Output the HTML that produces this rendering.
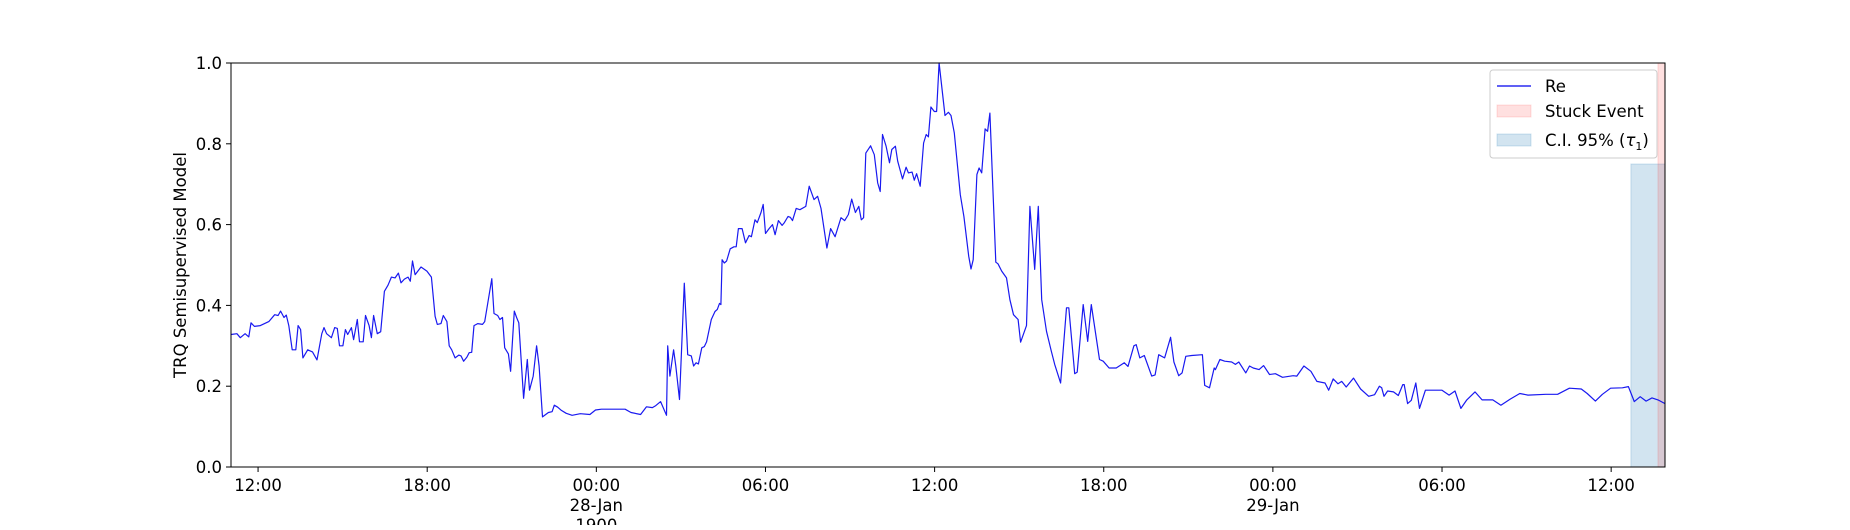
<!DOCTYPE html>
<html><head><meta charset="utf-8"><style>
html,body{margin:0;padding:0;background:#fff;}
svg text{font-family:"DejaVu Sans","Liberation Sans",sans-serif;fill:#000;}
</style></head><body>
<svg id="chart" width="1850" height="525" xmlns="http://www.w3.org/2000/svg">
<g id="bands"></g>
<g id="series"></g>
<g id="axes"></g>
<g id="legend"></g>
</svg>
<script>
// hours since 27-Jan 00:00
const hours = [11.04,11.25,11.37,11.54,11.67,11.75,11.87,12.08,12.38,12.59,12.71,12.80,12.92,13.00,13.09,13.21,13.34,13.42,13.51,13.59,13.76,13.93,14.09,14.26,14.34,14.43,14.60,14.72,14.81,14.89,15.01,15.10,15.18,15.31,15.39,15.52,15.60,15.73,15.81,15.94,16.02,16.10,16.23,16.35,16.48,16.61,16.73,16.86,16.98,17.07,17.19,17.32,17.40,17.48,17.57,17.78,17.99,18.15,18.28,18.36,18.49,18.57,18.70,18.78,18.87,18.99,19.12,19.20,19.29,19.41,19.49,19.58,19.66,19.79,19.96,20.04,20.12,20.29,20.37,20.50,20.58,20.67,20.75,20.88,20.96,21.09,21.17,21.25,21.42,21.55,21.63,21.76,21.88,21.97,22.09,22.30,22.43,22.51,22.63,22.76,22.93,23.14,23.43,23.77,23.97,24.18,24.60,25.02,25.23,25.57,25.78,25.99,26.11,26.28,26.49,26.53,26.61,26.74,26.82,26.95,27.12,27.24,27.37,27.45,27.54,27.62,27.74,27.83,27.91,28.08,28.21,28.29,28.37,28.42,28.46,28.54,28.62,28.75,28.88,28.96,29.04,29.17,29.29,29.42,29.50,29.63,29.71,29.84,29.92,30.00,30.13,30.25,30.34,30.46,30.59,30.67,30.80,30.88,30.96,31.09,31.22,31.43,31.55,31.72,31.85,31.97,32.18,32.31,32.47,32.68,32.81,32.94,33.06,33.19,33.31,33.40,33.48,33.56,33.73,33.86,33.98,34.07,34.15,34.28,34.40,34.48,34.61,34.69,34.86,34.99,35.07,35.20,35.28,35.36,35.49,35.61,35.70,35.78,35.87,35.99,36.07,36.16,36.37,36.49,36.58,36.70,36.91,37.04,37.21,37.29,37.37,37.50,37.58,37.67,37.79,37.88,37.96,38.17,38.25,38.38,38.55,38.67,38.80,38.96,39.05,39.26,39.38,39.55,39.68,39.80,39.97,40.14,40.26,40.47,40.68,40.76,40.97,41.06,41.27,41.43,41.56,41.85,41.98,42.19,42.44,42.73,42.86,43.07,43.15,43.28,43.44,43.70,43.82,43.95,44.16,44.37,44.49,44.66,44.78,44.91,45.12,45.50,45.58,45.75,45.92,45.96,46.12,46.29,46.54,46.67,46.79,47.04,47.17,47.30,47.51,47.67,47.88,48.09,48.34,48.72,48.85,49.10,49.35,49.56,49.85,49.98,50.14,50.31,50.44,50.60,50.86,51.11,51.40,51.61,51.78,51.86,51.94,52.07,52.28,52.45,52.61,52.66,52.78,52.91,53.07,53.20,53.41,54.00,54.25,54.46,54.67,54.88,55.17,55.42,55.80,56.09,56.42,56.76,57.05,57.68,58.10,58.52,58.94,59.15,59.44,59.69,59.98,60.40,60.61,60.82,61.03,61.24,61.45,61.66,61.91];
const values = [.328,.33,.32,.33,.322,.357,.348,.35,.36,.377,.375,.386,.37,.376,.35,.29,.29,.35,.34,.27,.29,.285,.265,.33,.345,.33,.32,.345,.343,.30,.30,.34,.328,.345,.315,.365,.31,.31,.375,.35,.32,.375,.33,.335,.435,.45,.47,.468,.48,.456,.465,.47,.46,.51,.476,.495,.485,.47,.373,.353,.355,.375,.36,.30,.29,.27,.277,.275,.262,.272,.283,.284,.35,.355,.353,.36,.394,.466,.38,.375,.365,.37,.295,.28,.237,.386,.37,.357,.17,.266,.19,.225,.30,.25,.124,.135,.137,.153,.148,.14,.133,.128,.132,.13,.141,.143,.143,.143,.135,.13,.149,.147,.152,.162,.128,.30,.225,.29,.25,.167,.455,.278,.275,.25,.258,.255,.295,.298,.31,.365,.385,.39,.405,.402,.513,.505,.51,.54,.545,.545,.59,.59,.555,.573,.57,.612,.605,.63,.65,.578,.59,.60,.575,.61,.598,.605,.62,.618,.61,.64,.637,.645,.695,.662,.67,.64,.542,.59,.57,.617,.61,.625,.663,.63,.645,.612,.617,.777,.795,.773,.703,.682,.823,.794,.753,.786,.794,.757,.713,.742,.728,.73,.71,.726,.695,.802,.823,.817,.891,.88,.88,1.0,.87,.878,.87,.827,.674,.62,.522,.49,.513,.724,.74,.728,.837,.831,.876,.507,.503,.485,.468,.414,.377,.365,.309,.35,.645,.489,.645,.414,.336,.287,.254,.208,.394,.394,.231,.235,.402,.311,.402,.266,.262,.245,.245,.258,.249,.30,.303,.27,.276,.225,.228,.278,.27,.321,.26,.226,.233,.274,.276,.278,.202,.196,.245,.241,.266,.262,.26,.254,.26,.233,.25,.245,.241,.251,.229,.231,.222,.226,.225,.25,.237,.212,.208,.19,.218,.206,.212,.198,.22,.193,.175,.179,.20,.196,.175,.188,.186,.177,.204,.204,.157,.165,.208,.145,.19,.19,.178,.188,.145,.166,.186,.166,.166,.153,.168,.182,.178,.18,.18,.195,.193,.182,.163,.18,.195,.196,.199,.162,.174,.163,.171,.166,.157];
const xTickHours = [12,18,24,30,36,42,48,54,60];
const xTickLabels = ["12:00","18:00","00:00","06:00","12:00","18:00","00:00","06:00","12:00"];
const xTickSub = {24:["28-Jan","1900"],48:["29-Jan"]};
const yTicks = [0,0.2,0.4,0.6,0.8,1.0];
const yTickLabels = ["0.0","0.2","0.4","0.6","0.8","1.0"];
const ciBand = [60.70,61.91,0.75];
const stuckBand = [61.66,61.91];
const xDomain = [11.04,61.91];

const NS="http://www.w3.org/2000/svg";
const L=231,R=1665,T=63,B=467;
const xs=h=>L+(h-xDomain[0])/(xDomain[1]-xDomain[0])*(R-L);
const ys=v=>B-v*(B-T);
function mk(tag,attrs,parent,text){const e=document.createElementNS(NS,tag);for(const k in attrs)e.setAttribute(k,attrs[k]);if(text!==undefined)e.textContent=text;parent.appendChild(e);return e;}
const bands=document.getElementById('bands'),series=document.getElementById('series'),axes=document.getElementById('axes'),legend=document.getElementById('legend');

const ci=mk('rect',{x:xs(ciBand[0]),y:ys(ciBand[2]),width:xs(ciBand[1])-xs(ciBand[0]),height:ys(0)-ys(ciBand[2]),fill:'#1f77b4','fill-opacity':0.2,stroke:'#1f77b4','stroke-opacity':0.2},bands);


const st=mk('rect',{x:xs(stuckBand[0]),y:T,width:xs(stuckBand[1])-xs(stuckBand[0]),height:B-T,fill:'#ff0000','fill-opacity':0.12,stroke:'#ff0000','stroke-opacity':0.12},bands);



let d='';hours.forEach((h,i)=>{d+=(i?'L':'M')+xs(h).toFixed(1)+','+ys(values[i]).toFixed(1);});
const line=mk('path',{d:d,fill:'none',stroke:'#0000ee','stroke-width':1.2,'stroke-linejoin':'round','stroke-opacity':0.9},series);



const frame=mk('rect',{x:L,y:T,width:R-L,height:B-T,fill:'none',stroke:'#000','stroke-width':1},axes);



yTicks.forEach((v,i)=>{
  const tk=mk('line',{x1:L-5,x2:L,y1:ys(v),y2:ys(v),stroke:'#000'},axes);
  
  
  const t=mk('text',{x:L-9,y:ys(v)+6,'text-anchor':'end','font-size':16.5},axes,yTickLabels[i]);
  
  
});
xTickHours.forEach((h,i)=>{
  const tk=mk('line',{x1:xs(h),x2:xs(h),y1:B,y2:B+5,stroke:'#000'},axes);
  
  
  const t=mk('text',{x:xs(h),y:B+24,'text-anchor':'middle','font-size':16.5},axes,xTickLabels[i]);
  
  
  (xTickSub[h]||[]).forEach((s,j)=>{
    const t2=mk('text',{x:xs(h),y:B+44+j*20,'text-anchor':'middle','font-size':16.5},axes,s);
    
    
  });
});
const yt=mk('text',{x:0,y:0,transform:'translate(186,'+((T+B)/2)+') rotate(-90)','text-anchor':'middle','font-size':16.5},axes,'TRQ Semisupervised Model');



const lb=mk('rect',{x:1490,y:70,width:167,height:88,rx:3,fill:'#fff','fill-opacity':0.8,stroke:'#ccc'},legend);


const l1=mk('line',{x1:1497,x2:1531,y1:86,y2:86,stroke:'#0000ee','stroke-width':1.3},legend);


const s2=mk('rect',{x:1497,y:105,width:34,height:12,fill:'#ff0000','fill-opacity':0.12,stroke:'#ff0000','stroke-opacity':0.12},legend);


const s3=mk('rect',{x:1497,y:134,width:34,height:12,fill:'#1f77b4','fill-opacity':0.2,stroke:'#1f77b4','stroke-opacity':0.2},legend);


const e1=mk('text',{x:1545,y:92,'font-size':16.5},legend,'Re');


const e2=mk('text',{x:1545,y:117,'font-size':16.5},legend,'Stuck Event');


const e3=mk('text',{x:1545,y:146,'font-size':16.5},legend);


e3.innerHTML='C.I. 95% (<tspan font-style="italic">τ</tspan><tspan font-size="11" dy="4">1</tspan><tspan dy="-4">)</tspan>';
</script>
</body></html>
